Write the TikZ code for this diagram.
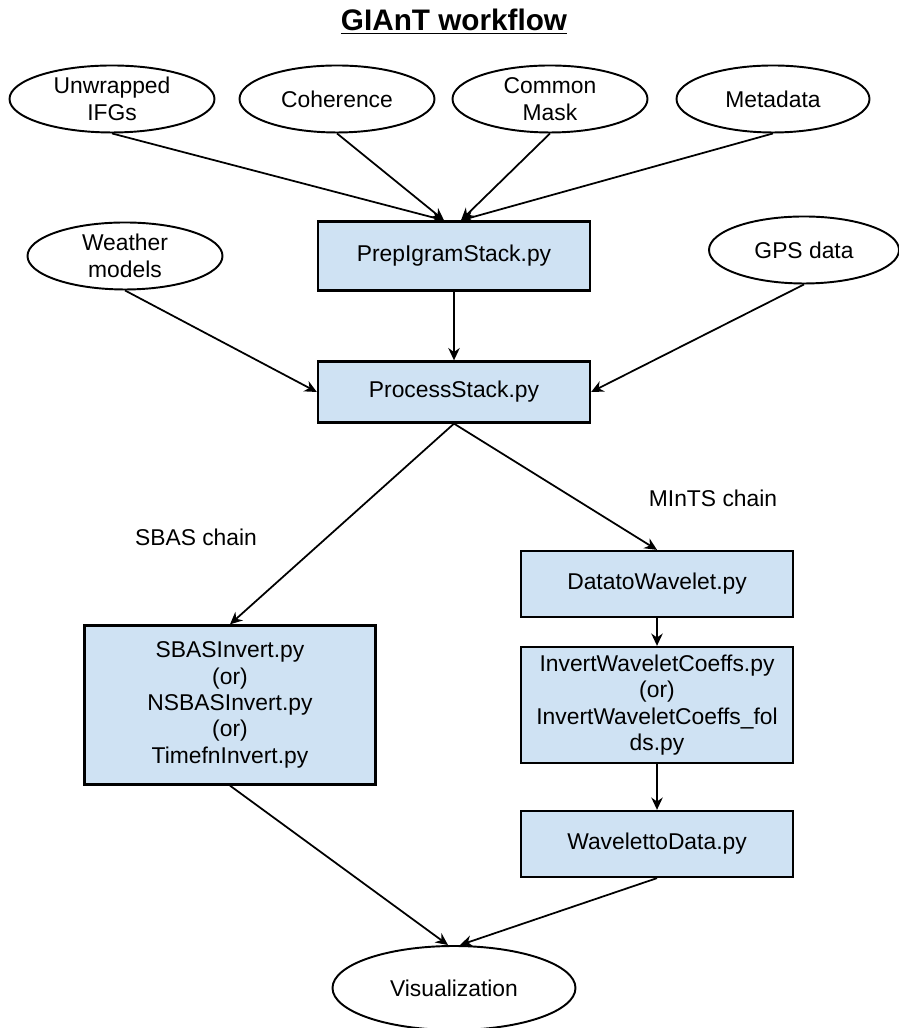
\documentclass[tikz,border=0pt]{standalone}
\usepackage{fontspec}
\setmainfont{Liberation Sans}
\usepackage{xcolor}
\definecolor{scriptBlue}{RGB}{207,226,243}
\usepackage{tikz}
\usetikzlibrary{arrows.meta,shapes,positioning}
\tikzstyle{datanode}=[ellipse, draw=black, line width=1.1pt, inner sep=0pt, minimum width=3.9cm, minimum height=1.34cm, align=center, font=\fontsize{13}{15}\selectfont]
\tikzstyle{scriptnode}=[rectangle, draw=black, line width=1.3pt, fill=scriptBlue, minimum width=5.44cm, minimum height=1.32cm, align=center, font=\fontsize{13}{15}\selectfont]
\tikzstyle{flowarrow}=[-{Stealth[length=7pt,width=6.5pt]}, line width=1pt]
\tikzstyle{chainlabel}=[font=\fontsize{13}{15}\selectfont]

\begin{document}
\begin{tikzpicture}
    \useasboundingbox (0,0) rectangle (17.96,20.56);

    % Title
    \node[font=\bfseries\fontsize{16.9}{20}\selectfont, anchor=base] (title) at (9.08,19.94) {\underline{GIAnT workflow}};

    % Inputs
    \node[datanode, minimum width=4.1cm] (unw) at (2.24, 18.58) {Unwrapped\\IFGs};
    \node[datanode] (coh) at (6.74, 18.58) {Coherence};
    \node[datanode] (mask) at (11.0, 18.58) {Common\\Mask};
    \node[datanode, minimum width=3.86cm] (meta) at (15.46, 18.58) {Metadata};
    \node[datanode] (weather) at (2.5, 15.44) {Weather\\models};
    \node[datanode, minimum width=3.8cm] (gps) at (16.08, 15.56) {GPS data};

    % Scripts
    \node[scriptnode, minimum height=1.38cm] (prep) at (9.08, 15.44) {PrepIgramStack.py};
    \node[scriptnode, minimum height=1.22cm] (proc) at (9.08, 12.72) {ProcessStack.py};
    \node[scriptnode] (d2w) at (13.14, 8.88) {DatatoWavelet.py};
    \node[scriptnode, minimum width=5.82cm, minimum height=3.18cm] (sbas) at (4.6, 6.46)
        {SBASInvert.py\\(or)\\NSBASInvert.py\\(or)\\TimefnInvert.py};
    \node[scriptnode, minimum height=2.32cm] (iwc) at (13.14, 6.46)
        {InvertWaveletCoeffs.py\\(or)\\InvertWaveletCoeffs\_fol\\ds.py};
    \node[scriptnode] (w2d) at (13.14, 3.68) {WavelettoData.py};

    % Output
    \node[datanode, minimum width=4.86cm, minimum height=1.68cm] (vis) at (9.08, 0.8) {Visualization};

    % Chain labels
    \node[chainlabel] (sbaslbl) at (3.92, 9.82) {SBAS chain};
    \node[chainlabel] (mintslbl) at (14.26, 10.6) {MInTS chain};

    % Arrows
    \draw[flowarrow] (unw.south) -- ([xshift=-0.2cm]prep.north);
    \draw[flowarrow] (coh.south) -- ([xshift=-0.2cm]prep.north);
    \draw[flowarrow] (mask.south) -- ([xshift=0.14cm]prep.north);
    \draw[flowarrow] (meta.south) -- ([xshift=0.14cm]prep.north);
    \draw[flowarrow] (prep) -- (proc);
    \draw[flowarrow] (weather.south) -- (proc.west);
    \draw[flowarrow] (gps.south) -- (proc.east);
    \draw[flowarrow] (proc.south) -- (sbas.north);
    \draw[flowarrow] (proc.south) -- (d2w.north);
    \draw[flowarrow] (d2w) -- (iwc);
    \draw[flowarrow] (iwc) -- (w2d);
    \draw[flowarrow] (sbas.south) -- ([xshift=-0.12cm]vis.north);
    \draw[flowarrow] (w2d.south) -- ([xshift=0.12cm]vis.north);
\end{tikzpicture}
\end{document}
